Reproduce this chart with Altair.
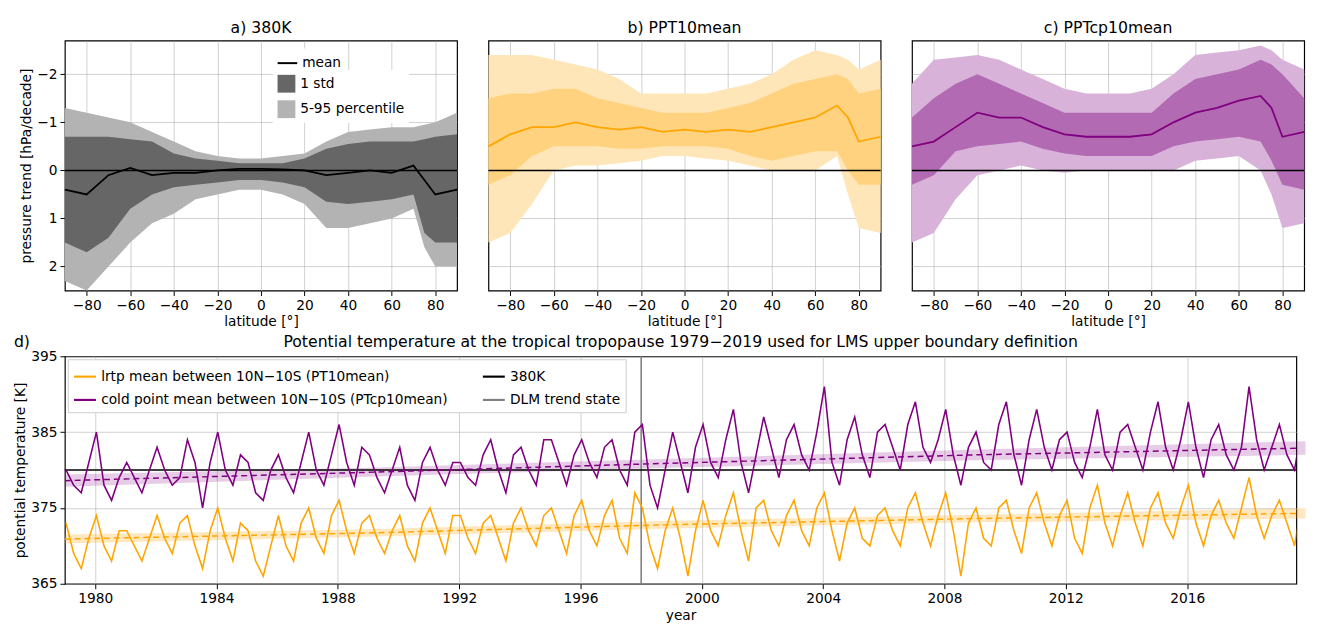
import altair as alt
import pandas as pd

FONT = "DejaVu Sans"

# ---- top panels: latitude profiles of pressure trend (hPa/decade, positive = down)
lat = [-90, -80, -70, -60, -50, -40, -30, -20, -10, 0, 10, 20, 30, 40, 50, 60, 70, 75, 80, 90]

a_mean = [0.4, 0.5, 0.1, -0.05, 0.1, 0.05, 0.05, 0.0, -0.03, -0.03, -0.02, 0.0, 0.1, 0.05, 0.0, 0.05, -0.1, 0.2, 0.5, 0.4]
a_std_lo = [-0.7, -0.7, -0.7, -0.65, -0.6, -0.35, -0.25, -0.2, -0.15, -0.15, -0.15, -0.25, -0.45, -0.55, -0.6, -0.6, -0.6, -0.65, -0.7, -0.75]
a_std_hi = [1.5, 1.7, 1.4, 0.8, 0.5, 0.35, 0.3, 0.25, 0.2, 0.2, 0.25, 0.35, 0.65, 0.7, 0.65, 0.6, 0.5, 1.3, 1.5, 1.5]
a_pct_lo = [-1.3, -1.2, -1.1, -1.0, -0.8, -0.6, -0.4, -0.3, -0.25, -0.25, -0.3, -0.35, -0.6, -0.8, -0.85, -0.9, -0.9, -0.95, -1.0, -1.2]
a_pct_hi = [2.3, 2.5, 2.0, 1.5, 1.1, 0.9, 0.6, 0.5, 0.4, 0.4, 0.5, 0.7, 1.2, 1.2, 1.1, 1.0, 0.8, 1.6, 2.0, 2.0]

b_mean = [-0.5, -0.75, -0.9, -0.9, -1.0, -0.9, -0.85, -0.9, -0.8, -0.85, -0.8, -0.85, -0.8, -0.9, -1.0, -1.1, -1.35, -1.1, -0.6, -0.7]
b_std_lo = [-1.5, -1.6, -1.6, -1.7, -1.7, -1.5, -1.4, -1.3, -1.2, -1.2, -1.2, -1.3, -1.4, -1.6, -1.8, -1.9, -2.0, -1.9, -1.6, -1.7]
b_std_hi = [0.3, 0.1, -0.3, -0.5, -0.5, -0.5, -0.45, -0.45, -0.5, -0.5, -0.5, -0.45, -0.3, -0.2, -0.3, -0.4, -0.4, 0.0, 0.3, 0.3]
b_pct_lo = [-2.4, -2.4, -2.4, -2.3, -2.2, -2.1, -1.9, -1.6, -1.6, -1.6, -1.6, -1.7, -1.8, -2.0, -2.3, -2.5, -2.4, -2.3, -2.1, -2.3]
b_pct_hi = [1.5, 1.3, 0.7, 0.0, -0.1, -0.1, -0.15, -0.2, -0.3, -0.3, -0.25, -0.2, -0.1, 0.0, 0.0, 0.0, -0.3, 0.5, 1.2, 1.3]

c_mean = [-0.5, -0.6, -0.9, -1.2, -1.1, -1.1, -0.9, -0.75, -0.7, -0.7, -0.7, -0.75, -1.0, -1.2, -1.3, -1.45, -1.55, -1.3, -0.7, -0.8]
c_std_lo = [-1.1, -1.5, -1.8, -2.0, -1.8, -1.6, -1.4, -1.2, -1.2, -1.2, -1.2, -1.2, -1.6, -1.9, -2.0, -2.1, -2.3, -2.2, -2.0, -1.5]
c_std_hi = [0.3, 0.1, -0.4, -0.5, -0.55, -0.6, -0.45, -0.35, -0.3, -0.3, -0.3, -0.3, -0.5, -0.6, -0.65, -0.7, -0.6, -0.2, 0.3, 0.4]
c_pct_lo = [-1.8, -2.3, -2.35, -2.4, -2.3, -2.1, -1.9, -1.7, -1.6, -1.6, -1.6, -1.7, -2.0, -2.4, -2.45, -2.5, -2.6, -2.5, -2.3, -2.1]
c_pct_hi = [1.5, 1.3, 0.6, 0.1, 0.0, -0.1, 0.0, 0.05, 0.0, 0.0, 0.0, 0.0, 0.0, -0.2, -0.25, -0.3, 0.0, 0.5, 1.2, 1.1]

# ---- bottom panel: quarterly (Jan, Apr, Jul, Oct) potential temperature [K]
years = list(range(1979, 2020))
cp_rows = [
    [380, 378, 377, 381], [385, 378, 376, 379], [381, 379, 377, 380], [383, 380, 378, 379],
    [384, 381, 375, 381], [385, 380, 378, 382], [381, 377, 376, 380], [382, 379, 377, 381],
    [385, 380, 378, 382], [386, 381, 378, 383], [382, 379, 377, 380], [383, 378, 376, 381],
    [383, 380, 378, 381], [381, 379, 378, 382], [384, 380, 377, 382], [383, 380, 378, 384],
    [384, 381, 378, 382], [384, 381, 379, 383], [384, 380, 378, 385], [386, 378, 375, 380],
    [385, 381, 377, 383], [386, 381, 379, 384], [388, 381, 377, 382], [387, 383, 379, 384],
    [386, 382, 380, 385], [391, 381, 378, 384], [387, 382, 379, 385], [386, 383, 380, 386],
    [389, 383, 381, 384], [388, 382, 378, 383], [385, 381, 380, 386], [389, 382, 378, 384],
    [388, 383, 380, 384], [385, 381, 379, 383], [388, 382, 380, 385], [386, 383, 380, 385],
    [389, 383, 380, 384], [389, 383, 379, 384], [386, 382, 380, 383], [391, 384, 380, 383],
    [386, 382, 380, 386],
]
lrtp_rows = [
    [373, 369, 367, 371], [374, 370, 368, 372], [372, 370, 368, 371], [374, 371, 369, 373],
    [374, 370, 367, 372], [375, 371, 368, 373], [372, 368, 366, 370], [374, 370, 368, 373],
    [375, 371, 369, 374], [376, 372, 369, 373], [374, 371, 369, 372], [374, 370, 368, 373],
    [375, 372, 369, 374], [374, 371, 369, 373], [374, 371, 368, 373], [375, 372, 370, 374],
    [375, 372, 369, 374], [376, 372, 370, 374], [376, 371, 369, 377], [375, 370, 367, 372],
    [375, 371, 366, 372], [376, 372, 370, 374], [377, 372, 368, 375], [376, 372, 370, 374],
    [376, 372, 370, 375], [377, 372, 368, 373], [375, 371, 370, 374], [375, 372, 370, 375],
    [377, 373, 370, 374], [377, 372, 366, 373], [375, 371, 370, 375], [376, 372, 369, 375],
    [377, 373, 370, 374], [376, 371, 369, 375], [378, 373, 370, 374], [377, 373, 370, 375],
    [377, 373, 371, 375], [378, 373, 370, 374], [376, 373, 371, 375], [379, 374, 371, 374],
    [376, 373, 370, 376],
]
quarter_offset = [0.04, 0.29, 0.54, 0.79]

trend_t = [1979, 1989, 1999, 2009, 2019.9]
cp_trend = [378.6, 379.7, 380.9, 382.0, 382.9]
cp_trend_lo = [377.8, 379.1, 380.3, 381.3, 382.0]
cp_trend_hi = [379.4, 380.3, 381.5, 382.7, 383.8]
lrtp_trend = [370.9, 371.7, 372.8, 373.6, 374.3]
lrtp_trend_lo = [370.3, 371.2, 372.3, 373.1, 373.6]
lrtp_trend_hi = [371.5, 372.2, 373.3, 374.1, 375.0]

ORANGE = "#ffa500"
PURPLE = "#800080"

y_scale = alt.Scale(domain=[-2.7, 2.5], reverse=True, nice=False)
x_scale = alt.Scale(domain=[-90, 90], nice=False)


def lat_panel(title, mean, std_lo, std_hi, pct_lo, pct_hi, line_col, std_col, pct_col, first):
    df = pd.DataFrame({"lat": lat, "mean": mean, "slo": std_lo, "shi": std_hi,
                       "plo": pct_lo, "phi": pct_hi})
    yax = alt.Axis(values=[-2, -1, 0, 1, 2], labels=first, ticks=first,
                   title="pressure trend [hPa/decade]" if first else None)
    xax = alt.Axis(values=list(range(-80, 81, 20)), title="latitude [°]")
    base = alt.Chart(df)
    x_enc = alt.X("lat:Q", scale=x_scale, axis=xax)
    if first:
        fill_scale = alt.Scale(domain=["1 std", "5-95 percentile"], range=[std_col, pct_col])
        fill_legend = alt.Legend(title=None, orient="none", legendX=212, legendY=30,
                                 symbolType="square", symbolSize=330, labelFontSize=14,
                                 padding=4, rowPadding=6, fillColor="white")
        pct = base.transform_calculate(k="'5-95 percentile'").mark_area().encode(
            x=x_enc, y=alt.Y("plo:Q", scale=y_scale, axis=yax), y2="phi:Q",
            fill=alt.Fill("k:N", scale=fill_scale, legend=fill_legend))
        std = base.transform_calculate(k="'1 std'").mark_area().encode(
            x="lat:Q", y="slo:Q", y2="shi:Q", fill=alt.Fill("k:N"))
        line = base.transform_calculate(k="'mean'").mark_line(strokeWidth=1.8).encode(
            x="lat:Q", y="mean:Q",
            stroke=alt.Stroke("k:N", scale=alt.Scale(domain=["mean"], range=[line_col]),
                              legend=alt.Legend(title=None, orient="none", legendX=212,
                                                legendY=8, symbolType="stroke",
                                                symbolSize=400, symbolStrokeWidth=2,
                                                labelFontSize=14, padding=4,
                                                fillColor="white")))
    else:
        pct = base.mark_area(color=pct_col).encode(
            x=x_enc, y=alt.Y("plo:Q", scale=y_scale, axis=yax), y2="phi:Q")
        std = base.mark_area(color=std_col).encode(x="lat:Q", y="slo:Q", y2="shi:Q")
        line = base.mark_line(color=line_col, strokeWidth=1.8).encode(x="lat:Q", y="mean:Q")
    zero = alt.Chart(pd.DataFrame({"z": [0]})).mark_rule(color="black", strokeWidth=1.5).encode(y="z:Q")
    return (pct + std + zero + line).properties(
        width=400, height=255, title=alt.Title(title, fontSize=16, fontWeight="normal"))


pa = lat_panel("a)  380K", a_mean, a_std_lo, a_std_hi, a_pct_lo, a_pct_hi,
               "black", "#666666", "#b3b3b3", True)
pb = lat_panel("b)  PPT10mean", b_mean, b_std_lo, b_std_hi, b_pct_lo, b_pct_hi,
               ORANGE, "#ffd27f", "#ffe6b8", False)
pc = lat_panel("c)  PPTcp10mean", c_mean, c_std_lo, c_std_hi, c_pct_lo, c_pct_hi,
               PURPLE, "#b26bb2", "#d9b2d9", False)
top = alt.hconcat(pa, pb, pc, spacing=22)

# ---- bottom chart
LRTP = "lrtp mean between 10N\u221210S (PT10mean)"
CP = "cold point mean between 10N\u221210S (PTcp10mean)"
TITLE_D = "Potential temperature at the tropical tropopause 1979\u22122019 used for LMS upper boundary definition"
rows = []
for yr, cpv, lrv in zip(years, cp_rows, lrtp_rows):
    for off, c, l in zip(quarter_offset, cpv, lrv):
        rows.append({"t": yr + off, "series": CP, "v": c})
        rows.append({"t": yr + off, "series": LRTP, "v": l})
ts = pd.DataFrame(rows)
tr = pd.DataFrame({"t": trend_t, "cp": cp_trend, "cplo": cp_trend_lo, "cphi": cp_trend_hi,
                   "lr": lrtp_trend, "lrlo": lrtp_trend_lo, "lrhi": lrtp_trend_hi})

tx = alt.Scale(domain=[1979, 2019.6], nice=False)
ty = alt.Scale(domain=[365, 395], nice=False)
col = alt.Color("series:N", scale=alt.Scale(domain=[LRTP, CP, "380K", "DLM trend state"],
                                            range=[ORANGE, PURPLE, "black", "#808080"]),
                legend=alt.Legend(title=None, orient="top-left", columns=2, symbolType="stroke",
                                  symbolStrokeWidth=2.2, symbolSize=500, labelFontSize=14,
                                  labelLimit=450, columnPadding=30, rowPadding=4,
                                  fillColor="white", strokeColor="#cccccc", padding=5,
                                  offset=3))
bands = alt.layer(
    alt.Chart(tr).mark_area(color=PURPLE, opacity=0.2).encode(
        x=alt.X("t:Q", scale=tx, axis=alt.Axis(values=list(range(1980, 2017, 4)), format="d",
                                               title="year")),
        y=alt.Y("cplo:Q", scale=ty, axis=alt.Axis(values=list(range(365, 396, 5)),
                                                  title="potential temperature [K]")),
        y2="cphi:Q"),
    alt.Chart(tr).mark_area(color=ORANGE, opacity=0.25).encode(x="t:Q", y="lrlo:Q", y2="lrhi:Q"),
)
lines = alt.Chart(ts).mark_line(strokeWidth=1.6, clip=True).encode(
    x="t:Q", y="v:Q", color=col, detail="series:N")
trends = alt.layer(
    alt.Chart(tr).mark_line(color=PURPLE, strokeDash=[6, 4], strokeWidth=1.5, clip=True).encode(x="t:Q", y="cp:Q"),
    alt.Chart(tr).mark_line(color=ORANGE, strokeDash=[6, 4], strokeWidth=1.5, clip=True).encode(x="t:Q", y="lr:Q"),
)
ref380 = alt.Chart(pd.DataFrame({"y": [380]})).mark_rule(color="black", strokeWidth=1.6).encode(y="y:Q")
v1998 = alt.Chart(pd.DataFrame({"x": [1998]})).mark_rule(color="#808080", strokeWidth=1.6).encode(x="x:Q")
titles = pd.DataFrame({"s": ["d)", TITLE_D], "pos": ["l", "c"]})
dlabel = alt.Chart(titles).transform_filter("datum.pos == 'l'").mark_text(
    align="left", baseline="bottom", fontSize=16, font=FONT).encode(
    text="s:N", x=alt.value(-52), y=alt.value(-6))
tlabel = alt.Chart(titles).transform_filter("datum.pos == 'c'").mark_text(
    align="center", baseline="bottom", fontSize=16, font=FONT).encode(
    text="s:N", x=alt.value(628), y=alt.value(-6))
bottom = alt.layer(bands, v1998, ref380, lines, trends, dlabel, tlabel).properties(
    width=1256, height=232)

chart = alt.vconcat(top, bottom, spacing=4).resolve_scale(color="independent").configure(
    font=FONT).configure_view(stroke="black", strokeWidth=1.2).configure_axis(
    gridColor="#b0b0b0", gridOpacity=0.6, labelFontSize=14, titleFontSize=14,
    titleFontWeight="normal", domain=False, tickColor="black", labelColor="black",
    titleColor="black", labelPadding=3, titlePadding=3).configure_title(offset=5)

chart.save("out.html", embed_options={"renderer": "svg", "actions": False})
